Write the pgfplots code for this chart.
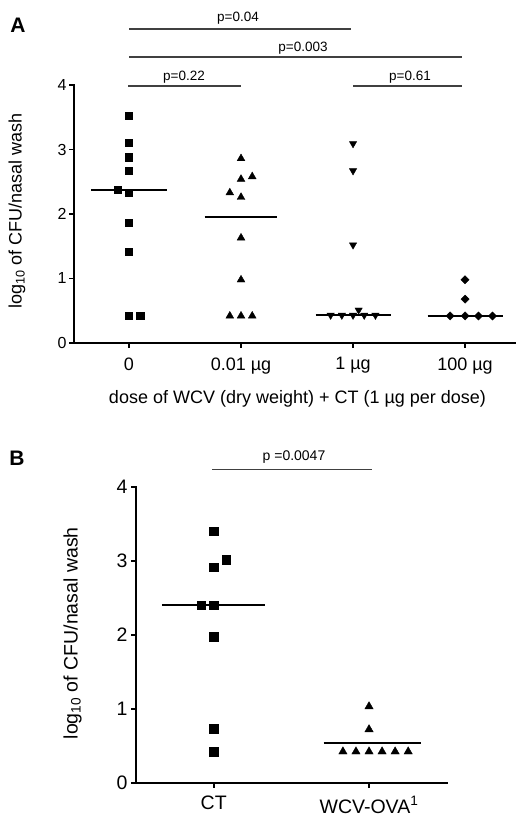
\documentclass[border=0pt]{standalone}
\usepackage{fontspec}
\setmainfont{Liberation Sans}
\usepackage{pgfplots}
\pgfplotsset{compat=1.18}
\begin{document}
\begin{tikzpicture}[x=1pt,y=1pt]
\useasboundingbox (0,0) rectangle (522,816);
\pgfplotsset{prism/.style={scale only axis, axis lines*=left,
  axis line style={line width=2.3pt, line cap=rect},
  tick align=outside, major tick length=5pt,
  tick style={line width=1.8pt, black},
  clip=false, /pgf/number format/assume math mode=true,
  ymin=0, ymax=4, ytick={0,1,2,3,4}},
  med/.style={black, line width=1.9pt, no marks},
  pts/.style={only marks, black, mark options={fill=black, draw=black}}}
% ---------------- Panel A
\begin{axis}[prism, at={(74pt,473pt)}, anchor=south west,
  width=441pt, height=258pt, xmin=-0.491, xmax=3.446,
  xtick={0,1,2,3}, xticklabels={0, 0.01 µg, 1 µg, 100 µg},
  yticklabel style={font=\fontsize{16}{16}\selectfont, xshift=1pt},
  xticklabel style={font=\fontsize{18}{18}\selectfont, yshift=-6pt}]
\addplot[pts, mark=square*, mark size=3.6pt] coordinates {
 (0,3.52) (0,3.10) (0,2.88) (0,2.67) (-0.1,2.38) (0,2.33) (0,1.87) (0,1.41) (0,0.42) (0.1,0.42)};
\addplot[pts, mark=triangle*, mark size=4.5pt] coordinates {
 (1,2.86) (1,2.54) (1.1,2.58) (0.9,2.33) (1,2.26) (1,1.63) (1,0.98) (0.9,0.42) (1,0.42) (1.1,0.42)};
\addplot[pts, mark=triangle*, mark size=4.2pt, mark options={rotate=180, fill=black}] coordinates {
 (2,3.09) (2,2.67) (2,1.52) (2.05,0.51) (1.8,0.43) (1.9,0.43) (2,0.43) (2.1,0.43) (2.2,0.43)};
\addplot[pts, mark=square*, mark size=2.9pt, mark options={rotate=45, fill=black}] coordinates {
 (3,0.98) (3,0.68) (2.866,0.42) (3,0.42) (3.12,0.42) (3.245,0.42)};
\addplot[med] coordinates {(-0.335,2.37) (0.335,2.37)};
\addplot[med] coordinates {(0.675,1.95) (1.325,1.95)};
\addplot[med] coordinates {(1.665,0.43) (2.335,0.43)};
\addplot[med] coordinates {(2.665,0.42) (3.335,0.42)};
\end{axis}
\node[font=\bfseries\fontsize{21}{21}\selectfont] at (18pt,791pt) {A};
\node[rotate=90, font=\fontsize{18}{18}\selectfont] at (17pt,605pt) {log\textsubscript{10} of CFU/nasal wash};
\node[font=\fontsize{18}{18}\selectfont] at (297.5pt,417pt) {dose of WCV (dry weight) + CT (1 µg per dose)};
\begin{scope}[line width=1.1pt, black!75]
\draw (129pt,787pt) -- (351pt,787pt);
\draw (129pt,759pt) -- (462pt,759pt);
\draw (128pt,730pt) -- (241pt,730pt);
\draw (353pt,730pt) -- (462pt,730pt);
\end{scope}
\begin{scope}[font=\fontsize{13.5}{13.5}\selectfont]
\node at (238pt,798pt) {p=0.04};
\node at (303pt,768pt) {p=0.003};
\node at (184pt,739pt) {p=0.22};
\node at (410pt,739pt) {p=0.61};
\end{scope}
% ---------------- Panel B
\begin{axis}[prism, at={(136pt,33.3pt)}, anchor=south west,
  width=310.7pt, height=296pt, xmin=-0.5, xmax=1.5,
  xtick={0,1}, xticklabels={CT, WCV-OVA\textsuperscript{1}},
  ticklabel style={font=\fontsize{19.5}{19.5}\selectfont},
  xticklabel style={yshift=-5pt}]
\addplot[pts, mark=square*, mark size=4.3pt] coordinates {
 (0,3.40) (0.08,3.01) (0,2.91) (-0.08,2.40) (0,2.40) (0,1.97) (0,0.73) (0,0.42)};
\addplot[pts, mark=triangle*, mark size=4.8pt] coordinates {
 (1,1.03) (1,0.72) (0.832,0.42) (0.916,0.42) (1,0.42) (1.084,0.42) (1.168,0.42) (1.252,0.42)};
\addplot[med] coordinates {(-0.333,2.40) (0.333,2.40)};
\addplot[med] coordinates {(0.708,0.54) (1.335,0.54)};
\end{axis}
\node[font=\bfseries\fontsize{21}{21}\selectfont] at (17pt,358pt) {B};
\node[rotate=90, font=\fontsize{19.5}{19.5}\selectfont] at (72.5pt,182.7pt) {log\textsubscript{10} of CFU/nasal wash};
\draw[line width=1.1pt, black!75] (212pt,346.7pt) -- (372pt,346.7pt);
\node[font=\fontsize{14}{14}\selectfont] at (294pt,359pt) {p =0.0047};
\end{tikzpicture}
\end{document}
